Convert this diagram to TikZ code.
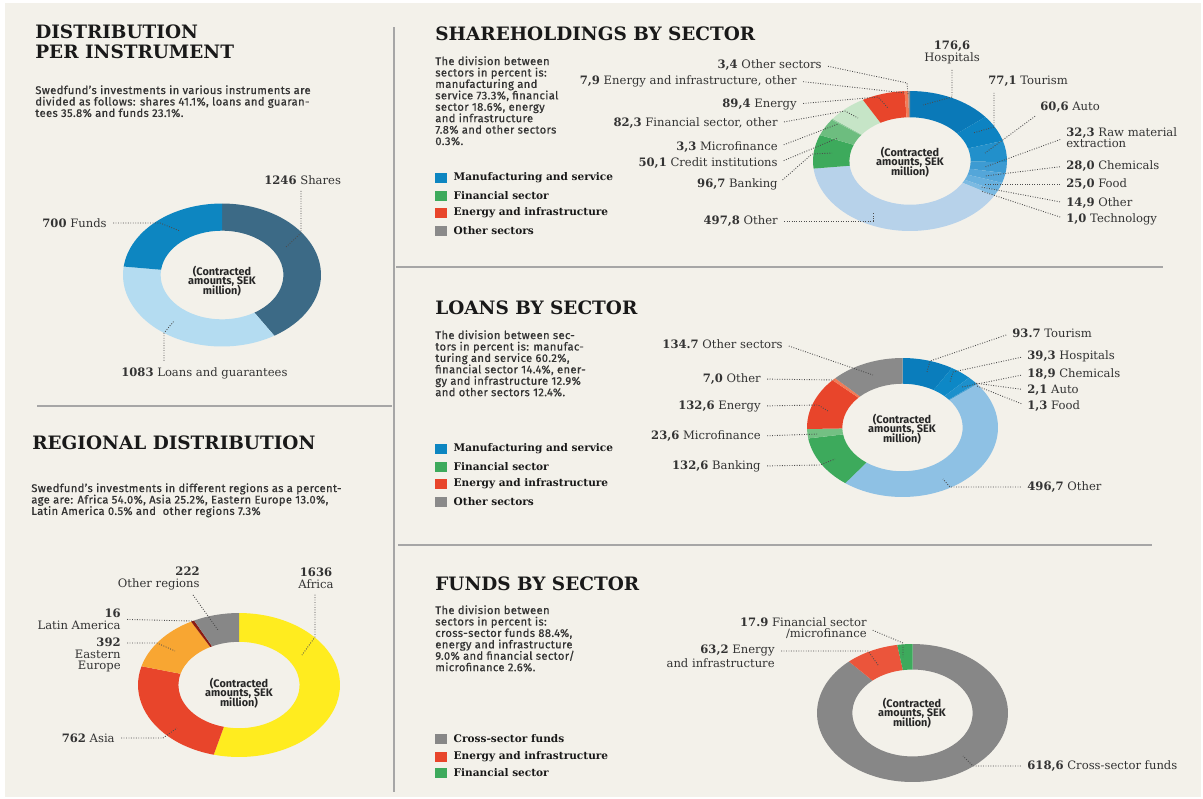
\documentclass[tikz,border=0pt]{standalone}
\usepackage{fontspec}
\setmainfont{DejaVu Serif}
\newfontfamily\blurbfont[FakeBold=0.8, LetterSpace=3.5]{Fira Sans}
\newfontfamily\centrefont{Fira Sans}
\usepackage{tikz}
\usetikzlibrary{positioning}

\newcommand{\tightlines}{\lineskiplimit=-4pt\relax}

\definecolor{paper}{HTML}{F3F1EA}
\definecolor{shares}{HTML}{3C6A86}
\definecolor{loans}{HTML}{B4DCF1}
\definecolor{funds}{HTML}{0D86C1}
\definecolor{africa}{HTML}{FFEC1F}
\definecolor{asia}{HTML}{E8452B}
\definecolor{easteu}{HTML}{F8A632}
\definecolor{latam}{HTML}{8B1B12}
\definecolor{othreg}{HTML}{878787}
\definecolor{manuf}{HTML}{0D86C1}
\definecolor{bank}{HTML}{3DAA5C}
\definecolor{energy}{HTML}{E8452B}
\definecolor{enoth}{HTML}{F27B57}
\definecolor{othsec}{HTML}{8A8A8A}
\definecolor{s-hosp}{HTML}{0A79B8}
\definecolor{s-tour}{HTML}{0D83C2}
\definecolor{s-auto}{HTML}{2290CB}
\definecolor{s-raw}{HTML}{3D9BD2}
\definecolor{s-chem}{HTML}{54A6D9}
\definecolor{s-food}{HTML}{67B0DE}
\definecolor{s-oth}{HTML}{7CBAE2}
\definecolor{s-tech}{HTML}{92C5E7}
\definecolor{s-other}{HTML}{B7D2EA}
\definecolor{s-credit}{HTML}{6DBD7F}
\definecolor{s-micro}{HTML}{8ECB9B}
\definecolor{s-finoth}{HTML}{C6E5C7}
\definecolor{l-tour}{HTML}{0A7DBC}
\definecolor{l-hosp}{HTML}{0D88C6}
\definecolor{l-chem}{HTML}{1C90CC}
\definecolor{l-auto}{HTML}{3A9BD3}
\definecolor{l-food}{HTML}{5AA9DA}
\definecolor{l-other}{HTML}{8EC1E4}
\definecolor{l-micro}{HTML}{73C083}
\definecolor{cross}{HTML}{878787}
\definecolor{f-energy}{HTML}{EB553B}

\tikzset{
  headline/.style={anchor=north west, inner sep=0pt, align=left, text=black!90,
    font=\bfseries\fontsize{10.5}{11.4}\selectfont},
  blurb/.style={anchor=north west, inner sep=0pt, align=left, text=black!80,
    font={\blurbfont\fontsize{6.35}{6.5}\selectfont\tightlines}},
  lbl/.style={inner sep=0pt, text=black!80, font=\fontsize{6.6}{6.3}\selectfont},
  centre/.style={align=center, inner sep=0pt, text=black!85,
    font={\centrefont\bfseries\fontsize{6.2}{5.4}\selectfont\tightlines}},
  legsq/.style={minimum width=0.24cm, minimum height=0.2cm, inner sep=0pt},
  legtxt/.style={inner sep=0pt, text=black!90, font=\bfseries\fontsize{6}{6}\selectfont},
  leader/.style={draw=black!70, line width=0.5pt, dash pattern=on 0.5pt off 0.9pt,
    shorten <=3.5pt},
  divider/.style={draw=black!35, line width=0.6pt},
}

% one piece of a ring, in a scope whose x and y are the radii
\newcommand{\ringpart}[3]{%
  \fill[#3] (#1:1) arc[start angle=#1, end angle=#2, radius=1]
    -- (#2:\rinr) arc[start angle=#2, end angle=#1, radius=\rinr] -- cycle;}

\begin{document}
\begin{tikzpicture}[x=0.02cm, y=-0.02cm]
\useasboundingbox (0,0) rectangle (1203,798);
\fill[white] (0,0) rectangle (1203,798);
\fill[paper] (5,3) rectangle (1201,797);

% dividers
\draw[divider] (394,27) -- (394,792);
\draw[divider] (37,406) -- (392,406);
\draw[divider] (396,267) -- (1163,267);
\draw[divider] (398,545) -- (1152,545);

%%% distribution per instrument
\node[headline] (h-instr) at (35,24) {DISTRIBUTION\\PER INSTRUMENT};
\node[blurb] (b-instr) at (35,85) {Swedfund’s investments in various instruments are\\
  divided as follows: shares 41.1\%, loans and guaran-\\tees 35.8\% and funds 23.1\%.};
\begin{scope}[shift={(222,275)}, x=1.98cm, y=1.43cm]
  \def\rinr{0.62}
  \ringpart{90}{-58.1}{shares}
  \ringpart{-58.1}{-186.8}{loans}
  \ringpart{-186.8}{-270}{funds}
\end{scope}
\node[centre] (c-instr) at (222,281) {(Contracted\\amounts, SEK\\million)};
\node[lbl, anchor=west] (l-shares) at (264,180) {\textbf{1246} Shares};
\node[lbl, anchor=east] (l-funds) at (107,223) {\textbf{700} Funds};
\node[lbl, anchor=west] (l-loans) at (121,373) {\textbf{1083} Loans and guarantees};
\coordinate (b-shares) at (301,233); \coordinate (t-shares) at (286,247);
\coordinate (b-funds) at (160,223); \coordinate (t-funds) at (180,231);
\coordinate (b-loans) at (164,333); \coordinate (t-loans) at (174,321);
\draw[leader] (l-shares.south -| b-shares) -- (b-shares) -- (t-shares);
\draw[leader] (l-funds.east) -- (b-funds) -- (t-funds);
\draw[leader] (l-loans.north -| b-loans) -- (b-loans) -- (t-loans);

%%% regional distribution
\node[headline] (h-region) at (32,435) {REGIONAL DISTRIBUTION};
\node[blurb] (b-region) at (31,483) {Swedfund’s investments in different regions as a percent-\\
  age are: Africa 54.0\%, Asia 25.2\%, Eastern Europe 13.0\%,\\
  Latin America 0.5\% and\ \ other regions 7.3\%};
\begin{scope}[shift={(239,685)}, x=2.02cm, y=1.44cm]
  \def\rinr{0.6}
  \ringpart{90}{-104.5}{africa}
  \ringpart{-104.5}{-195.1}{asia}
  \ringpart{-195.1}{-241.7}{easteu}
  \ringpart{-241.7}{-243.6}{latam}
  \ringpart{-243.6}{-270}{othreg}
\end{scope}
\node[centre] (c-region) at (239,693) {(Contracted\\amounts, SEK\\million)};
\node[lbl, anchor=north, align=center] (l-africa) at (316,568) {\textbf{1636}\\Africa};
\node[lbl, anchor=north east, align=right] (l-othreg) at (200,567) {\textbf{222}\\Other regions};
\node[lbl, anchor=north east, align=right] (l-latam) at (121,609) {\textbf{16}\\Latin America};
\node[lbl, anchor=north east, align=right] (l-easteu) at (121,638) {\textbf{392}\\Eastern\\Europe};
\node[lbl, anchor=east] (l-asia) at (115,738) {\textbf{762} Asia};
\coordinate (b-africa) at (315,637); \coordinate (t-africa) at (302,655);
\coordinate (t-othreg) at (218,630);
\coordinate (t-latam) at (192,621);
\coordinate (b-easteu) at (157,643); \coordinate (t-easteu) at (175,651);
\coordinate (b-asia) at (163,738); \coordinate (t-asia) at (177,728);
\draw[leader] (l-africa.south -| b-africa) -- (b-africa) -- (t-africa);
\draw[leader] ([xshift=-6pt]l-othreg.south east) -- (t-othreg);
\draw[leader] (l-latam.east) -- (t-latam);
\draw[leader] (b-easteu -| l-easteu.east) -- (b-easteu) -- (t-easteu);
\draw[leader] (l-asia.east) -- (b-asia) -- (t-asia);

%%% shareholdings by sector
\node[headline] (h-share) at (435,26) {SHAREHOLDINGS BY SECTOR};
\node[blurb] (b-share) at (435,56) {The division between\\sectors in percent is:\\
  manufacturing and\\service 73.3\%, financial\\sector 18.6\%, energy\\
  and infrastructure\\7.8\% and other sectors\\0.3\%.};
\node[legsq, fill=manuf] (k-s-man) at (441,178) {};
\node[legsq, fill=bank] (k-s-fin) at (441,196) {};
\node[legsq, fill=energy] (k-s-en) at (441,213) {};
\node[legsq, fill=othsec] (k-s-oth) at (441,231) {};
\node[legtxt, right=0.12cm of k-s-man] (n-s-man) {Manufacturing and service};
\node[legtxt, right=0.12cm of k-s-fin] (n-s-fin) {Financial sector};
\node[legtxt, right=0.12cm of k-s-en] (n-s-en) {Energy and infrastructure};
\node[legtxt, right=0.12cm of k-s-oth] (n-s-oth) {Other sectors};
\begin{scope}[shift={(910,161)}, x=1.94cm, y=1.40cm]
  \def\rinr{0.625}
  \ringpart{90}{38.99}{s-hosp}
  \ringpart{38.99}{16.72}{s-tour}
  \ringpart{16.72}{-0.78}{s-auto}
  \ringpart{-0.78}{-10.11}{s-raw}
  \ringpart{-10.11}{-18.20}{s-chem}
  \ringpart{-18.20}{-25.42}{s-food}
  \ringpart{-25.42}{-29.72}{s-oth}
  \ringpart{-29.72}{-30.01}{s-tech}
  \ringpart{-30.01}{-173.79}{s-other}
  \ringpart{-173.79}{-201.72}{bank}
  \ringpart{-201.72}{-216.19}{s-credit}
  \ringpart{-216.19}{-217.14}{s-micro}
  \ringpart{-217.14}{-240.91}{s-finoth}
  \ringpart{-240.91}{-266.73}{energy}
  \ringpart{-266.73}{-269.01}{enoth}
  \ringpart{-269.01}{-270}{othsec}
\end{scope}
\node[centre] (c-share) at (910,162) {(Contracted\\amounts, SEK\\million)};
\node[lbl, anchor=east] (l-s-othsec) at (822,65) {\textbf{3,4} Other sectors};
\node[lbl, anchor=east] (l-s-enoth) at (797,81) {\textbf{7,9} Energy and infrastructure, other};
\node[lbl, anchor=east] (l-s-en) at (797,104) {\textbf{89,4} Energy};
\node[lbl, anchor=east] (l-s-finoth) at (778,123) {\textbf{82,3} Financial sector, other};
\node[lbl, anchor=east] (l-s-micro) at (778,147) {\textbf{3,3} Microfinance};
\node[lbl, anchor=east] (l-s-credit) at (778,163) {\textbf{50,1} Credit institutions};
\node[lbl, anchor=east] (l-s-bank) at (778,184) {\textbf{96,7} Banking};
\node[lbl, anchor=east] (l-s-other) at (778,221) {\textbf{497,8} Other};
\node[lbl, anchor=north, align=center] (l-s-hosp) at (952,41) {\textbf{176,6}\\Hospitals};
\node[lbl, anchor=west] (l-s-tour) at (988,81) {\textbf{77,1} Tourism};
\node[lbl, anchor=west] (l-s-auto) at (1040,107) {\textbf{60,6} Auto};
\node[lbl, anchor=north west, align=left] (l-s-raw) at (1066,127) {\textbf{32,3} Raw material\\extraction};
\node[lbl, anchor=west] (l-s-chem) at (1066,166) {\textbf{28,0} Chemicals};
\node[lbl, anchor=west] (l-s-food) at (1066,184) {\textbf{25,0} Food};
\node[lbl, anchor=west] (l-s-oth) at (1066,203) {\textbf{14,9} Other};
\node[lbl, anchor=west] (l-s-tech) at (1066,219) {\textbf{1,0} Technology};
\coordinate (b-s-othsec) at (907,83); \coordinate (t-s-othsec) at (908,95);
\coordinate (t-s-enoth) at (905,93);
\coordinate (b-s-en) at (878,97); \coordinate (t-s-en) at (888,108);
\coordinate (b-s-finoth) at (845,111); \coordinate (t-s-finoth) at (858,118);
\coordinate (t-s-micro) at (838,124);
\coordinate (t-s-credit) at (838,138);
\coordinate (b-s-bank) at (812,154); \coordinate (t-s-bank) at (832,153);
\coordinate (b-s-other) at (873,221); \coordinate (t-s-other) at (873,212);
\coordinate (b-s-hosp) at (952,97); \coordinate (t-s-hosp) at (923,105);
\coordinate (b-s-tour) at (994,127); \coordinate (t-s-tour) at (973,133);
\coordinate (t-s-auto) at (985,153);
\coordinate (t-s-raw) at (985,167);
\coordinate (t-s-chem) at (985,176);
\coordinate (t-s-food) at (984,184);
\coordinate (t-s-oth) at (981,187);
\coordinate (t-s-tech) at (981,191);
\draw[leader] (l-s-othsec.east) -- (b-s-othsec) -- (t-s-othsec);
\draw[leader] (l-s-enoth.east) -- (t-s-enoth);
\draw[leader] (l-s-en.east) -- (b-s-en) -- (t-s-en);
\draw[leader] (l-s-finoth.east) -- (b-s-finoth) -- (t-s-finoth);
\draw[leader] (l-s-micro.east) -- (t-s-micro);
\draw[leader] (l-s-credit.east) -- (t-s-credit);
\draw[leader] (l-s-bank.east) -- (b-s-bank) -- (t-s-bank);
\draw[leader] (l-s-other.east) -- (b-s-other) -- (t-s-other);
\draw[leader] (l-s-hosp.south -| b-s-hosp) -- (b-s-hosp) -- (t-s-hosp);
\draw[leader] (l-s-tour.south -| b-s-tour) -- (b-s-tour) -- (t-s-tour);
\draw[leader] (l-s-auto.south west) -- (t-s-auto);
\draw[leader] (l-s-raw.west) -- (t-s-raw);
\draw[leader] (l-s-chem.west) -- (t-s-chem);
\draw[leader] (l-s-food.west) -- (t-s-food);
\draw[leader] (l-s-oth.west) -- (t-s-oth);
\draw[leader] (l-s-tech.west) -- (t-s-tech);

%%% loans by sector
\node[headline] (h-loan) at (435,300) {LOANS BY SECTOR};
\node[blurb] (b-loan) at (435,330) {The division between sec-\\tors in percent is: manufac-\\
  turing and service 60.2\%,\\financial sector 14.4\%, ener-\\gy and infrastructure 12.9\%\\
  and other sectors 12.4\%.};
\node[legsq, fill=manuf] (k-l-man) at (441,449) {};
\node[legsq, fill=bank] (k-l-fin) at (441,467) {};
\node[legsq, fill=energy] (k-l-en) at (441,484) {};
\node[legsq, fill=othsec] (k-l-oth) at (441,502) {};
\node[legtxt, right=0.12cm of k-l-man] (n-l-man) {Manufacturing and service};
\node[legtxt, right=0.12cm of k-l-fin] (n-l-fin) {Financial sector};
\node[legtxt, right=0.12cm of k-l-en] (n-l-en) {Energy and infrastructure};
\node[legtxt, right=0.12cm of k-l-oth] (n-l-oth) {Other sectors};
\begin{scope}[shift={(902.5,427.5)}, x=1.91cm, y=1.39cm]
  \def\rinr{0.63}
  \ringpart{90}{58.84}{l-tour}
  \ringpart{58.84}{45.77}{l-hosp}
  \ringpart{45.77}{39.48}{l-chem}
  \ringpart{39.48}{38.78}{l-auto}
  \ringpart{38.78}{38.35}{l-food}
  \ringpart{38.35}{-126.83}{l-other}
  \ringpart{-126.83}{-170.93}{bank}
  \ringpart{-170.93}{-178.78}{l-micro}
  \ringpart{-178.78}{-222.88}{energy}
  \ringpart{-222.88}{-225.21}{enoth}
  \ringpart{-225.21}{-270}{othsec}
\end{scope}
\node[centre] (c-loan) at (902,429) {(Contracted\\amounts, SEK\\million)};
\node[lbl, anchor=east] (l-l-othsec) at (783,344) {\textbf{134.7} Other sectors};
\node[lbl, anchor=east] (l-l-enoth) at (761,379) {\textbf{7,0} Other};
\node[lbl, anchor=east] (l-l-en) at (761,406) {\textbf{132,6} Energy};
\node[lbl, anchor=east] (l-l-micro) at (761,436) {\textbf{23,6} Microfinance};
\node[lbl, anchor=east] (l-l-bank) at (761,466) {\textbf{132,6} Banking};
\node[lbl, anchor=west] (l-l-tour) at (1012,333) {\textbf{93.7} Tourism};
\node[lbl, anchor=west] (l-l-hosp) at (1027,356) {\textbf{39,3} Hospitals};
\node[lbl, anchor=west] (l-l-chem) at (1027,374) {\textbf{18,9} Chemicals};
\node[lbl, anchor=west] (l-l-auto) at (1027,390) {\textbf{2,1} Auto};
\node[lbl, anchor=west] (l-l-food) at (1027,406) {\textbf{1,3} Food};
\node[lbl, anchor=west] (l-l-other) at (1027,487) {\textbf{496,7} Other};
\coordinate (t-l-othsec) at (873,375);
\coordinate (t-l-enoth) at (835,380);
\coordinate (b-l-en) at (818,405); \coordinate (t-l-en) at (828,411);
\coordinate (t-l-micro) at (818,434);
\coordinate (b-l-bank) at (820,465); \coordinate (t-l-bank) at (835,459);
\coordinate (b-l-tour) at (930,361); \coordinate (t-l-tour) at (927,372);
\coordinate (b-l-hosp) at (953,372); \coordinate (t-l-hosp) at (950,382);
\coordinate (t-l-chem) at (962,387);
\coordinate (t-l-auto) at (974,383);
\coordinate (t-l-food) at (977,386);
\coordinate (b-l-other) at (950,487); \coordinate (t-l-other) at (943,479);
\draw[leader] (l-l-othsec.east) -- (t-l-othsec);
\draw[leader] (l-l-enoth.east) -- (t-l-enoth);
\draw[leader] (l-l-en.east) -- (b-l-en) -- (t-l-en);
\draw[leader] (l-l-micro.east) -- (t-l-micro);
\draw[leader] (l-l-bank.east) -- (b-l-bank) -- (t-l-bank);
\draw[leader] (l-l-tour.west) -- (b-l-tour) -- (t-l-tour);
\draw[leader] (l-l-hosp.west) -- (b-l-hosp) -- (t-l-hosp);
\draw[leader] (l-l-chem.west) -- (t-l-chem);
\draw[leader] (l-l-auto.west) -- (t-l-auto);
\draw[leader] (l-l-food.west) -- (t-l-food);
\draw[leader] (l-l-other.west) -- (b-l-other) -- (t-l-other);

%%% funds by sector
\node[headline] (h-fund) at (435,576) {FUNDS BY SECTOR};
\node[blurb] (b-fund) at (435,605) {The division between\\sectors in percent is:\\
  cross-sector funds 88.4\%,\\energy and infrastructure\\9.0\% and financial sector/\\
  microfinance 2.6\%.};
\node[legsq, fill=cross] (k-f-cross) at (441,739) {};
\node[legsq, fill=energy] (k-f-en) at (441,757) {};
\node[legsq, fill=bank] (k-f-fin) at (441,773) {};
\node[legtxt, right=0.12cm of k-f-cross] (n-f-cross) {Cross-sector funds};
\node[legtxt, right=0.12cm of k-f-en] (n-f-en) {Energy and infrastructure};
\node[legtxt, right=0.12cm of k-f-fin] (n-f-fin) {Financial sector};
\begin{scope}[shift={(912.5,713)}, x=1.91cm, y=1.38cm]
  \def\rinr{0.63}
  \ringpart{90}{-228.28}{cross}
  \ringpart{-228.28}{-260.80}{f-energy}
  \ringpart{-260.80}{-270}{bank}
\end{scope}
\node[centre] (c-fund) at (912,713) {(Contracted\\amounts, SEK\\million)};
\node[lbl, anchor=north east, align=right] (l-f-fin) at (867,617) {\textbf{17.9} Financial sector\\/microfinance};
\node[lbl, anchor=north east, align=right] (l-f-en) at (775,645) {\textbf{63,2} Energy\\and infrastructure};
\node[lbl, anchor=west] (l-f-cross) at (1027,766) {\textbf{618,6} Cross-sector funds};
\coordinate (b-f-fin) at (903,643); \coordinate (t-f-fin) at (903,657);
\coordinate (b-f-en) at (868,651); \coordinate (t-f-en) at (878,665);
\coordinate (b-f-cross) at (973,766); \coordinate (t-f-cross) at (963,756);
\draw[leader] (l-f-fin.east) -- (b-f-fin) -- (t-f-fin);
\draw[leader] (b-f-en -| l-f-en.east) -- (b-f-en) -- (t-f-en);
\draw[leader] (l-f-cross.west) -- (b-f-cross) -- (t-f-cross);
\end{tikzpicture}
\end{document}
